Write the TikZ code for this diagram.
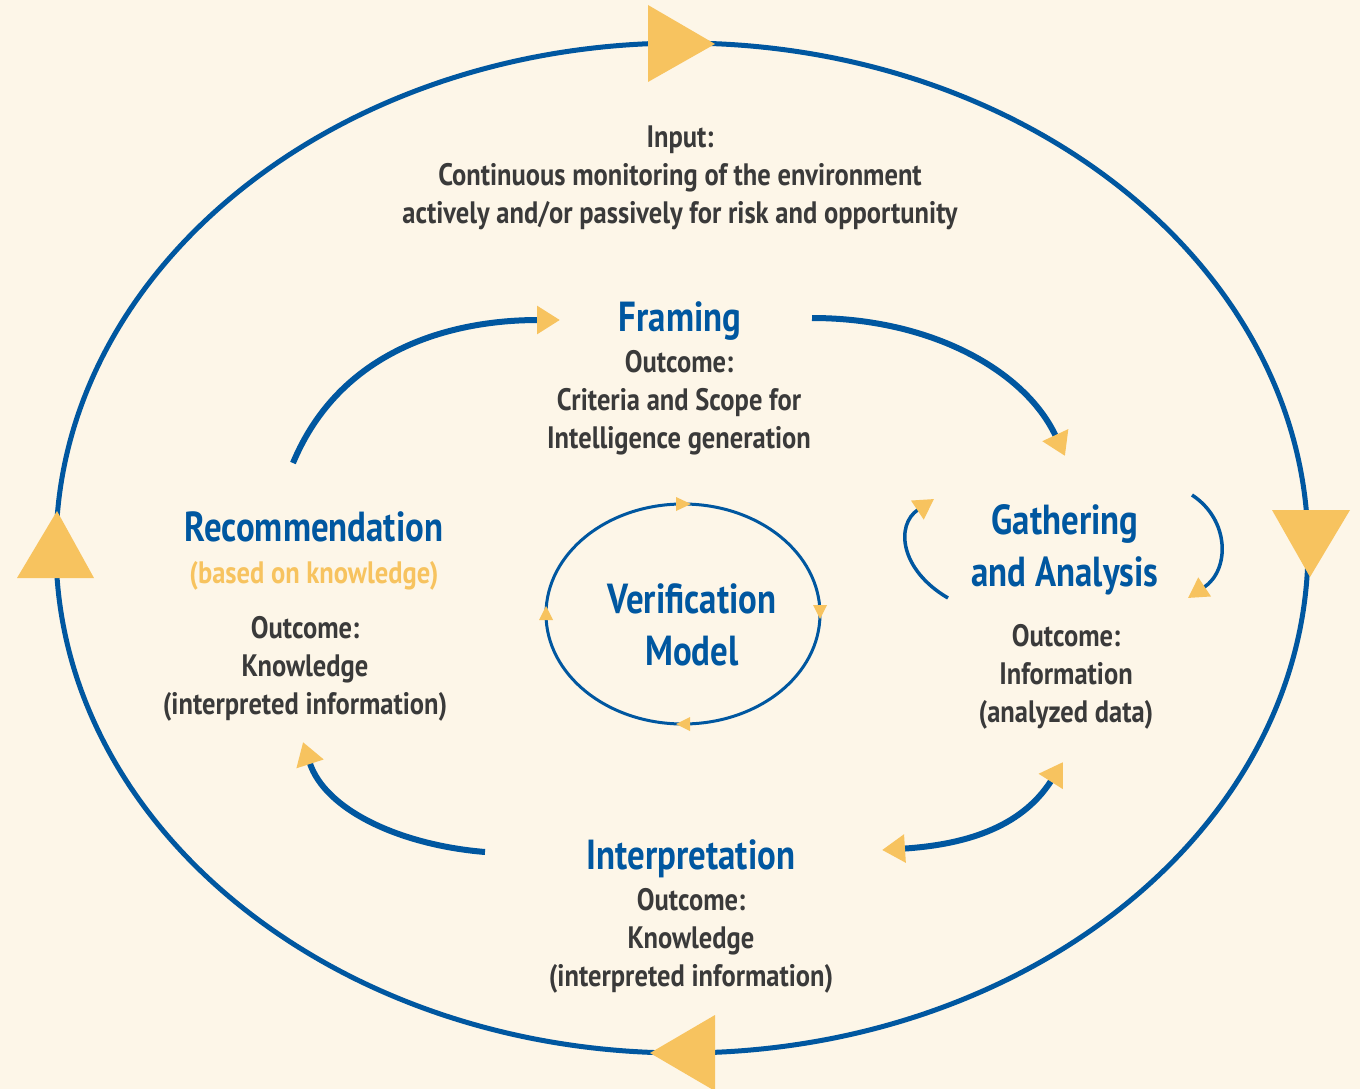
\documentclass[tikz,border=0pt]{standalone}
\usepackage{fontspec}
\usetikzlibrary{arrows.meta}
\newfontfamily\ptn{PT Sans}[FakeStretch=0.855]
\newfontfamily\ptt{PT Sans}[FakeStretch=0.83]
\definecolor{bgc}{RGB}{253,246,232}
\definecolor{bluec}{RGB}{0,87,160}
\definecolor{yelc}{RGB}{247,195,95}
\definecolor{txtc}{RGB}{58,58,58}
\tikzset{
  body/.style={font=\ptn\bfseries\fontsize{31}{38}\selectfont, text=txtc, align=center, inner sep=0pt},
  ttl/.style={font=\ptt\bfseries\fontsize{42}{52}\selectfont, text=bluec, align=center, inner sep=0pt},
  arc/.style={draw=bluec, line width=6pt},
  tipA/.style={-{Triangle[color=yelc, length=23pt, width=27pt]}},
  bigtri/.style={fill=yelc},
  smalltri/.style={fill=yelc},
}
\begin{document}
\begin{tikzpicture}[x=1pt,y=-1pt]
\fill[bgc] (0,0) rectangle (1360,1089);
\useasboundingbox (0,0) rectangle (1360,1089);
% big ellipse
\draw[bluec, line width=5pt] (682,548) ellipse [x radius=626, y radius=505];
\fill[bigtri] (648,5) -- (715,44) -- (648,82) -- cycle;
\fill[bigtri] (1272,510) -- (1350,510) -- (1310,577) -- cycle;
\fill[bigtri] (715,1015) -- (650,1053) -- (715,1091) -- cycle;
\fill[bigtri] (17,578) -- (57,511) -- (94,578) -- cycle;
% small ellipse
\draw[bluec, line width=3pt] (683,614) ellipse [x radius=137, y radius=110];
\fill[smalltri] (676,497) -- (691,504) -- (676,511) -- cycle;
\fill[smalltri] (813,605) -- (827,605) -- (820,619) -- cycle;
\fill[smalltri] (690,717) -- (676,724) -- (690,731) -- cycle;
\fill[smalltri] (539,620) -- (546,606) -- (553,620) -- cycle;
% texts
\node[body] (input) at (680,178) {Input:\\Continuous monitoring of the environment\\actively and/or passively for risk and opportunity};
\node[ttl] (framing) at (680,321) {Framing};
\node[body] (frout) at (679,403) {Outcome:\\Criteria and Scope for\\Intelligence generation};
\node[ttl] (recom) at (314,527) {Recommendation};
\node[body, text=yelc] (based) at (314,576) {(based on knowledge)};
\node[body] (recout) at (305,669) {Outcome:\\Knowledge\\(interpreted information)};
\node[ttl] (gath) at (1065,550) {Gathering\\and Analysis};
\node[body] (gathout) at (1066,677) {Outcome:\\Information\\(analyzed data)};
\node[ttl] (verif) at (692,625) {Verification\\Model};
\node[ttl] (interp) at (691,859) {Interpretation};
\node[body] (intout) at (691,941) {Outcome:\\Knowledge\\(interpreted information)};
% arcs
\coordinate (a1s) at (293,463); \coordinate (a1e) at (560,320);
\draw[arc, tipA] (a1s) .. controls (340,350) and (450,320) .. (a1e);
\coordinate (a2s) at (812,318); \coordinate (a2e) at (1065,456);
\draw[arc, tipA] (a2s) .. controls (930,318) and (1025,370) .. (a2e);
\coordinate (a3s) at (948,598); \coordinate (a3e) at (934,499);
\draw[draw=bluec, line width=3.5pt, -{Triangle[color=yelc, length=20pt, width=22pt]}] (a3s) .. controls (900,570) and (895,525) .. (a3e);
\coordinate (a4s) at (1192,495); \coordinate (a4e) at (1188,598);
\draw[draw=bluec, line width=3.5pt, -{Triangle[color=yelc, length=20pt, width=22pt]}] (a4s) .. controls (1230,520) and (1230,570) .. (a4e);
\coordinate (a5s) at (1063,762); \coordinate (a5e) at (882,850);
\draw[arc, {Triangle[color=yelc, length=23pt, width=27pt]}-{Triangle[color=yelc, length=23pt, width=27pt]}] (a5s) .. controls (1020,830) and (960,845) .. (a5e);
\coordinate (a6s) at (485,852); \coordinate (a6e) at (303,742);
\draw[arc, tipA] (a6s) .. controls (400,845) and (325,810) .. (a6e);
\end{tikzpicture}
\end{document}
